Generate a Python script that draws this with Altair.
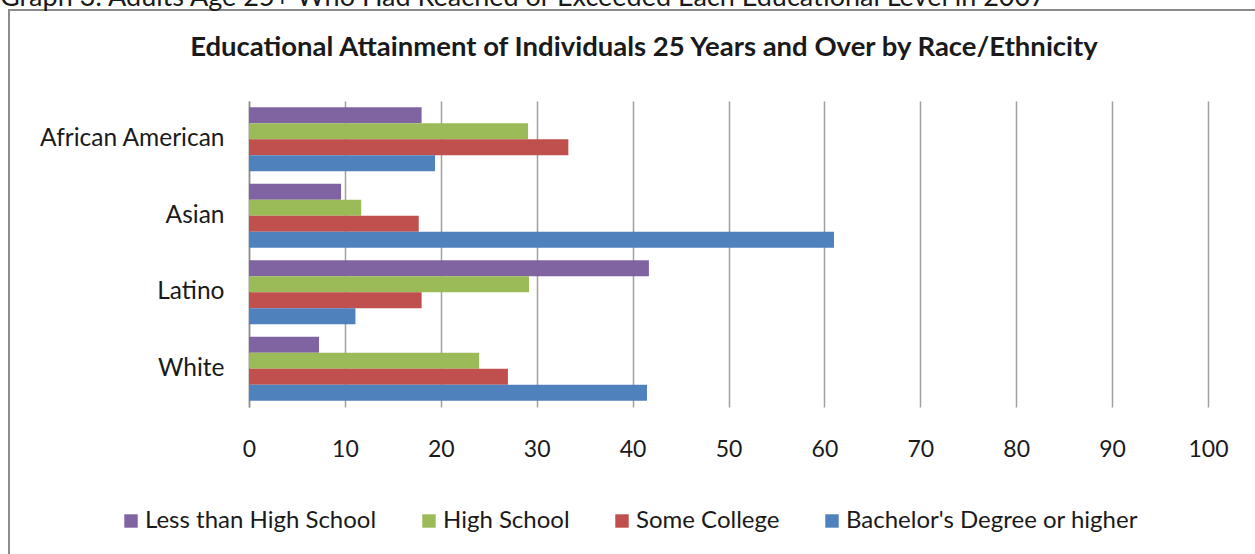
import altair as alt
import pandas as pd

# Educational attainment (%) of adults 25+ by race/ethnicity
races = ["African American", "Asian", "Latino", "White"]
levels = ["Less than High School", "High School", "Some College", "Bachelor's Degree or higher"]
colors = ["#8064a2", "#9bbb59", "#c0504d", "#4f81bd"]

less_than_hs = [18.0, 9.6, 41.7, 7.3]
high_school = [29.1, 11.7, 29.2, 24.0]
some_college = [33.3, 17.7, 18.0, 27.0]
bachelors = [19.4, 61.0, 11.1, 41.5]

rows = []
for series, level in zip([less_than_hs, high_school, some_college, bachelors], levels):
    for race, v in zip(races, series):
        rows.append({"race": race, "level": level, "value": v})
df = pd.DataFrame(rows)

FONT = "Lato"
PLOT_W, PLOT_H = 959, 306
PAD = {"left": 249, "top": 101, "right": 47, "bottom": 147}

bars = alt.Chart(df).mark_bar().encode(
    y=alt.Y("race:N", sort=races,
            scale=alt.Scale(paddingInner=0.163, paddingOuter=0.0815),
            axis=alt.Axis(title=None, ticks=False, domain=True, domainColor="#8c8c8c",
                          domainWidth=1.5, labelFont=FONT, labelFontSize=24.5,
                          labelColor="#1a1a1a", labelPadding=25, labelLimit=320,
                          grid=False)),
    yOffset=alt.YOffset("level:N", sort=levels, scale=alt.Scale(paddingInner=0, paddingOuter=0)),
    x=alt.X("value:Q", scale=alt.Scale(domain=[0, 100], nice=False),
            axis=alt.Axis(title=None, values=list(range(0, 101, 10)), ticks=False,
                          domain=False, grid=True, gridColor="#a0a0a0", gridWidth=1.5,
                          labelFont=FONT, labelFontSize=23, labelColor="#1a1a1a",
                          labelFlush=False, labelPadding=31)),
    color=alt.Color("level:N", sort=levels,
                    scale=alt.Scale(domain=levels, range=colors),
                    legend=alt.Legend(title=None, orient="none", direction="horizontal",
                                      legendX=-130, legendY=408, symbolType="square",
                                      symbolSize=180, symbolStrokeWidth=0,
                                      labelFont=FONT, labelFontSize=24, labelColor="#1a1a1a",
                                      labelOffset=2, columnPadding=40, labelLimit=400)),
)

frame = alt.Chart(pd.DataFrame({"k": [0]})).mark_rect(
    filled=False, stroke="#8c8c8c", strokeWidth=2
).encode(x=alt.value(-240), x2=alt.value(1100), y=alt.value(-91), y2=alt.value(600))

title = alt.Chart(pd.DataFrame({"t": ["Educational Attainment of Individuals 25 Years and Over by Race/Ethnicity"]})).mark_text(
    font=FONT, fontSize=27.5, fontWeight="bold", color="#1a1a1a", align="center", baseline="middle"
).encode(text="t:N", x=alt.value(395), y=alt.value(-53))

caption = alt.Chart(pd.DataFrame({"t": ["Graph 3: Adults Age 25+ Who Had Reached or Exceeded Each Educational Level in 2007"]})).mark_text(
    font=FONT, fontSize=27, color="#1a1a1a", align="left", baseline="alphabetic"
).encode(text="t:N", x=alt.value(-249), y=alt.value(-95))

chart = alt.layer(frame, bars, title, caption).properties(
    width=PLOT_W, height=PLOT_H, padding=PAD, background="white",
    autosize=alt.AutoSizeParams(type="none"),
).configure_view(stroke=None)

chart.save("out.html", embed_options={"renderer": "svg", "actions": False})
